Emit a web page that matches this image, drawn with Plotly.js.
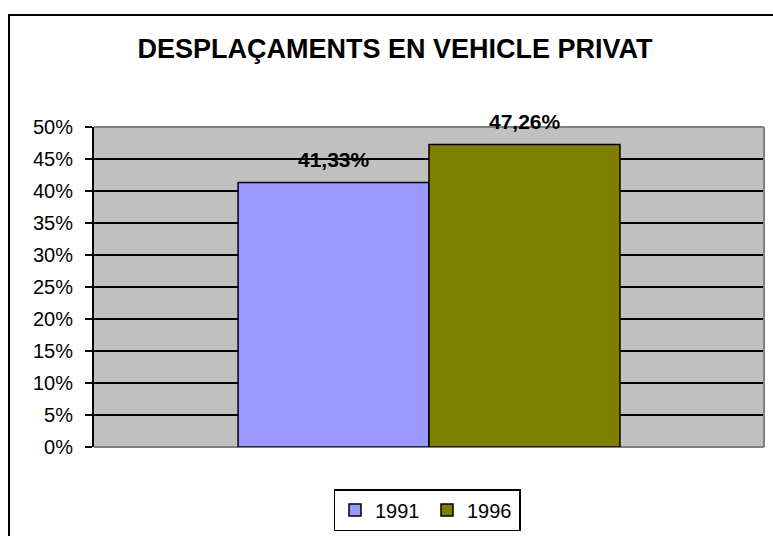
<!DOCTYPE html>
<html>
<head>
<meta charset="utf-8">
<script src="https://cdn.plot.ly/plotly-3.0.1.min.js"></script>
<style>html,body{margin:0;padding:0;background:#fff;}#chart{width:773px;height:536px;}</style>
</head>
<body>
<div id="chart"></div>
<script>
const categories = ['Vehicle privat'];
const seriesNames = ['1991', '1996'];
const values1991 = [41.33];
const values1996 = [47.26];
const yTicks = [0, 5, 10, 15, 20, 25, 30, 35, 40, 45, 50];

const colors = ['#9999FF', '#808000'];
const allValues = [values1991, values1996];

const fmt = v => v.toFixed(2).replace('.', ',') + '%';
const FONT = 'Arial, Liberation Sans, sans-serif';

const traces = allValues.map((vals, i) => ({
  type: 'bar',
  name: seriesNames[i],
  x: categories,
  y: vals,
  marker: { color: colors[i], line: { color: '#000', width: 1.5 } },
  hoverinfo: 'skip'
}));

const annotations = [];
allValues.forEach((vals, i) => {
  vals.forEach((v, j) => {
    annotations.push({
      xref: 'x', yref: 'y', x: categories[j], y: v,
      xshift: (i === 0 ? -95.5 : 95.5), yshift: 23,
      yanchor: 'middle', xanchor: 'center',
      text: '<b>' + fmt(v) + '</b>', showarrow: false,
      font: { family: FONT, size: 21, color: '#000' }
    });
  });
});

const layout = {
  width: 773, height: 536,
  margin: { l: 94, r: 9, t: 127, b: 89 },
  paper_bgcolor: '#fff',
  plot_bgcolor: '#C0C0C0',
  font: { family: FONT, size: 20, color: '#000' },
  title: {
    text: '<b>DESPLAÇAMENTS EN VEHICLE PRIVAT</b>',
    font: { family: FONT, size: 27, color: '#000' },
    x: 395 / 773, xanchor: 'center', xref: 'container',
    y: 1 - 49 / 536, yanchor: 'middle', yref: 'container'
  },
  barmode: 'group', bargap: 0.43, bargroupgap: 0,
  showlegend: true,
  legend: {
    orientation: 'h', xref: 'container', yref: 'container',
    x: 427 / 773, xanchor: 'center', y: 1 - 510 / 536, yanchor: 'middle',
    bordercolor: '#000', borderwidth: 1.5, bgcolor: '#fff',
    font: { family: FONT, size: 20, color: '#000' },
    itemwidth: 30, tracegroupgap: 0, entrywidth: 47
  },
  xaxis: {
    type: 'category', showticklabels: false, ticks: '', showgrid: false,
    zeroline: false, showline: false, fixedrange: true
  },
  yaxis: {
    range: [0, 50], tickvals: yTicks, ticktext: yTicks.map(t => t + '%'),
    showgrid: true, gridcolor: '#000', gridwidth: 1.5,
    zeroline: false, showline: true, linecolor: '#000', linewidth: 2,
    ticks: 'outside', ticklen: 7, tickcolor: '#000', tickwidth: 1.5,
    ticklabelstandoff: 8,
    tickfont: { family: FONT, size: 20, color: '#000' },
    fixedrange: true
  },
  shapes: [
    { type: 'line', xref: 'paper', yref: 'paper', x0: 0, x1: 1, y0: 1, y1: 1,
      line: { color: '#808080', width: 2 }, layer: 'above' },
    { type: 'line', xref: 'paper', yref: 'paper', x0: 1, x1: 1, y0: 0, y1: 1,
      line: { color: '#808080', width: 2 }, layer: 'above' },
    { type: 'line', xref: 'paper', yref: 'paper', x0: 0, x1: 1, y0: 0, y1: 0,
      line: { color: '#808080', width: 2 }, layer: 'below' },
    { type: 'rect', xref: 'paper', yref: 'paper',
      x0: (9 - 94) / 670, x1: (800 - 94) / 670,
      y0: (447 - 560) / 320, y1: (447 - 15) / 320,
      line: { color: '#000', width: 2 }, fillcolor: 'rgba(0,0,0,0)', layer: 'above' }
  ],
  annotations: annotations
};

Plotly.newPlot('chart', traces, layout, { displayModeBar: false, staticPlot: true });
</script>
</body>
</html>
